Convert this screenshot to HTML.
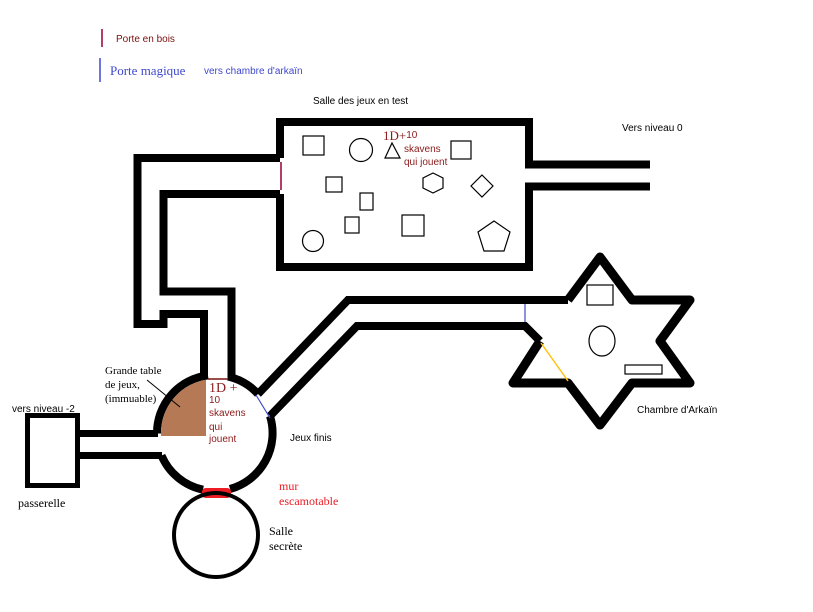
<!DOCTYPE html>
<html><head><meta charset="utf-8"><style>
html,body{margin:0;padding:0;background:#fff;}
svg{display:block;}
.s{font-family:"Liberation Sans",sans-serif;}
.r{font-family:"Liberation Serif",serif;}
</style></head><body>
<svg width="813" height="612" viewBox="0 0 813 612" xmlns="http://www.w3.org/2000/svg">
<rect width="813" height="612" fill="#fff"/>
<!-- legend -->
<line x1="102" y1="29" x2="102" y2="47" stroke="#990030" stroke-width="1.5"/>
<text x="116" y="42" class="s" font-size="10" fill="#7a1010">Porte en bois</text>
<line x1="100" y1="58" x2="100" y2="82" stroke="#3f48cc" stroke-width="1.5"/>
<text x="110" y="75" class="r" font-size="13" fill="#3f48cc">Porte magique</text>
<text x="204" y="74" class="s" font-size="10" fill="#3f48cc">vers chambre d'arkaïn</text>
<text x="313" y="104" class="s" font-size="10" fill="#000">Salle des jeux en test</text>
<text x="622" y="131" class="s" font-size="10" fill="#000">Vers niveau 0</text>

<g fill="none" stroke="#000" stroke-width="8" stroke-linejoin="miter">
<!-- top room -->
<path d="M280 158 V122 H529 V164.5 H650"/>
<path d="M280 194 V267 H529 V186.5 H650"/>
<!-- left corridor outer -->
<path d="M280 158 H137.5 V324 H163.5 V314 H204 V378"/>
<!-- inner -->
<path d="M280 194 H163.5 V291.5 H231.5 V378"/>
<!-- circle arcs -->
<path d="M228 376.5 A58 58 0 0 1 258 394"/>
<path d="M270 416 A58 58 0 0 1 230 489"/>
<path d="M203 489.7 A58 58 0 0 1 161.5 455.5"/>
<path d="M157 433.5 A58 58 0 0 1 208 375.4"/>
<!-- diagonals -->
<path d="M258 394 L348 300 H568"/>
<path d="M270 416 L357 326 H525 L540 341"/>
<!-- star -->
<path stroke-width="9" stroke-linejoin="round" d="M568 300 L600 257 L632 300 H690 L660 341 L690 383 H632 L600 425 L568 383 H513 L540 341"/>
</g>
<!-- left corridor to passerelle -->
<line x1="78" y1="433.5" x2="158" y2="433.5" stroke="#000" stroke-width="7"/>
<line x1="78" y1="455.5" x2="162" y2="455.5" stroke="#000" stroke-width="7"/>
<rect x="27.5" y="415.5" width="50" height="70" fill="none" stroke="#000" stroke-width="5"/>
<!-- brown table -->
<clipPath id="c"><rect x="150" y="370" width="56" height="66"/></clipPath>
<circle cx="215" cy="433" r="54" fill="#b57a55" clip-path="url(#c)"/>
<line x1="147" y1="380" x2="180" y2="407" stroke="#000" stroke-width="1"/>
<!-- doors -->
<line x1="281" y1="162" x2="281" y2="190" stroke="#990030" stroke-width="1.5"/>
<line x1="208" y1="379" x2="228" y2="379" stroke="#7a1010" stroke-width="1.5"/>
<line x1="256" y1="395" x2="270" y2="418" stroke="#3f48cc" stroke-width="1.2"/>
<line x1="525" y1="304" x2="525" y2="322" stroke="#3f48cc" stroke-width="1.2"/>
<line x1="541" y1="343" x2="568" y2="381" stroke="#ffc20e" stroke-width="1.5"/>
<!-- red wall -->
<rect x="202" y="488" width="29" height="10" rx="4" fill="#ed1c24"/>
<!-- secret room -->
<circle cx="216" cy="535" r="42" fill="none" stroke="#000" stroke-width="4"/>
<!-- room contents -->
<g fill="none" stroke="#000" stroke-width="1.2">
<rect x="303" y="136" width="21" height="19"/>
<circle cx="361" cy="150" r="11.5"/>
<polygon points="392,143 385,158 400,158"/>
<rect x="451" y="141" width="20" height="18"/>
<rect x="326" y="177" width="16" height="15"/>
<polygon points="433,173 443,178 443,188 433,193 423,188 423,178"/>
<polygon points="482,175 493,186 482,197 471,186"/>
<rect x="360" y="193" width="13" height="17"/>
<rect x="345" y="217" width="14" height="16"/>
<rect x="402" y="215" width="22" height="21"/>
<circle cx="313" cy="241" r="10.5"/>
<polygon points="494,221 510,232 504,251 484,251 478,232"/>
<rect x="587" y="285" width="26" height="20"/>
<ellipse cx="602" cy="341" rx="13" ry="15"/>
<rect x="625" y="365" width="37" height="9"/>
</g>
<!-- texts -->
<text x="383" y="140" class="r" font-size="13" fill="#8b1a1a">1D+<tspan class="s" font-size="10" dy="-2">10</tspan></text>
<text x="404" y="152" class="s" font-size="10" fill="#8b1a1a">skavens</text>
<text x="404" y="165" class="s" font-size="10" fill="#8b1a1a">qui jouent</text>
<text x="209" y="392" class="r" font-size="14" fill="#8b1a1a">1D +</text>
<text x="209" y="403" class="s" font-size="10" fill="#8b1a1a">10</text>
<text x="209" y="416" class="s" font-size="10" fill="#8b1a1a">skavens</text>
<text x="209" y="430" class="s" font-size="10" fill="#8b1a1a">qui</text>
<text x="209" y="442" class="s" font-size="10" fill="#8b1a1a">jouent</text>
<text x="105" y="374" class="r" font-size="11" fill="#000">Grande table</text>
<text x="105" y="388" class="r" font-size="11" fill="#000">de jeux,</text>
<text x="105" y="402" class="r" font-size="11" fill="#000">(immuable)</text>
<text x="12" y="412" class="s" font-size="10" fill="#000">vers niveau -2</text>
<text x="18" y="507" class="r" font-size="12" fill="#000">passerelle</text>
<text x="290" y="441" class="s" font-size="10" fill="#000">Jeux  finis</text>
<text x="279" y="490" class="r" font-size="12" fill="#ed1c24">mur</text>
<text x="279" y="505" class="r" font-size="12" fill="#ed1c24">escamotable</text>
<text x="269" y="535" class="r" font-size="12" fill="#000">Salle</text>
<text x="269" y="550" class="r" font-size="12" fill="#000">secrète</text>
<text x="637" y="413" class="s" font-size="10" fill="#000">Chambre d'Arkaïn</text>
</svg>
</body></html>
